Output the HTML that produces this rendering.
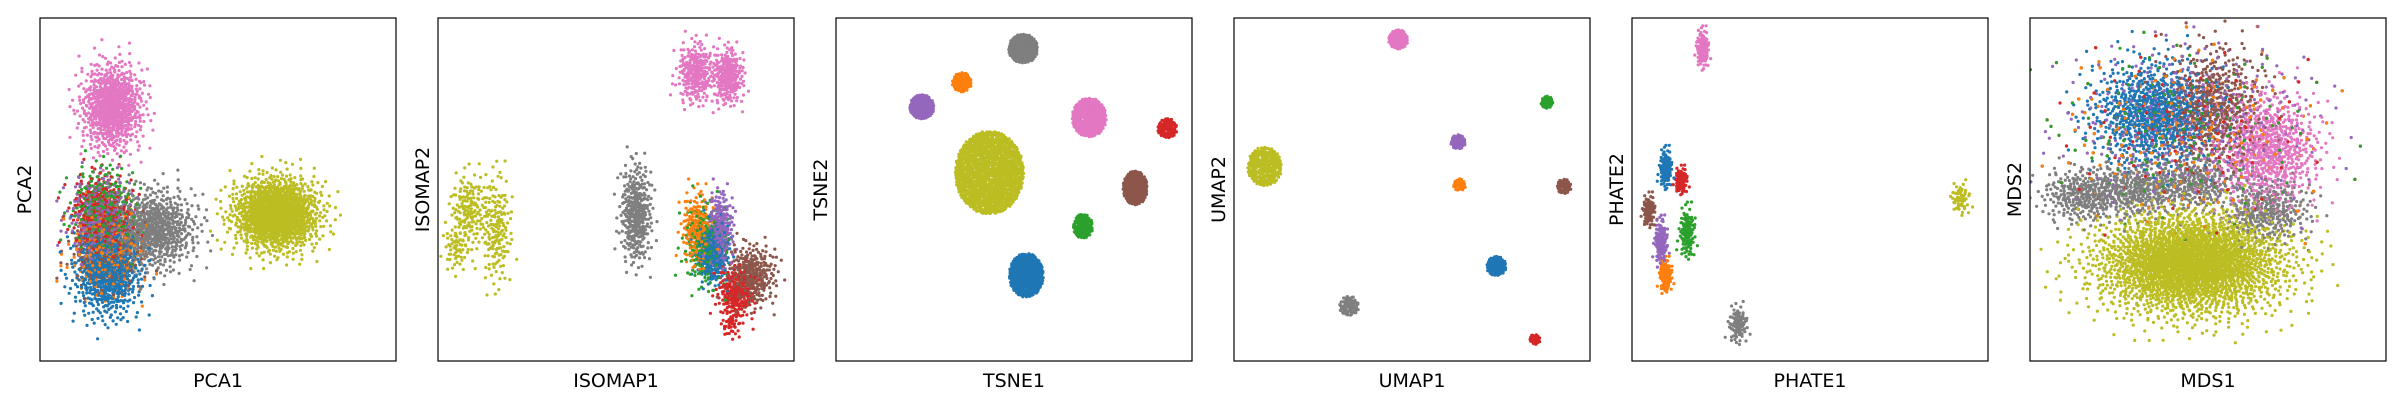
<!DOCTYPE html>
<html><head><meta charset="utf-8">
<style>
html,body{margin:0;padding:0;background:#fff;}
svg{display:block;}
text{font-family:"DejaVu Sans","Liberation Sans",sans-serif;fill:#000;}
</style></head>
<body>
<svg id="chart" width="2400" height="400" xmlns="http://www.w3.org/2000/svg"></svg>
<script>
// Panel titles
const xTitles = ["PCA1","ISOMAP1","TSNE1","UMAP1","PHATE1","MDS1"];
const yTitles = ["PCA2","ISOMAP2","TSNE2","UMAP2","PHATE2","MDS2"];
const palette = ["#1f77b4","#ff7f0e","#2ca02c","#d62728","#9467bd","#8c564b","#e377c2","#7f7f7f","#bcbd22"];

// Cluster data per panel (data domain x:0..232, y:0..224 measured from top)
const pcaColor = [5,1,0,4,2,3,7,6,8];
const pcaX     = [44,44,44,39,41,40,74,47,154];
const pcaY     = [150,152,165,130,125,128,138,58,128];
const pcaSX    = [12,12,11,10,10,10,14,10,14];
const pcaSY    = [14,14,15,13,14,13,13,14,12];
const pcaN     = [250,250,700,300,300,300,700,800,1300];
const pcaShape = [0,0,0,0,0,0,0,0,0];

const isoColor = [8,8,8,7,6,6,1,4,0,2,5,3,3];
const isoX     = [20,38,12,129,168,189,169,184,179,174,204,194,191];
const isoY     = [125,138,150,128,36,38,138,138,153,148,168,180,201];
const isoSX    = [6,5,4,5,6,5,5,4,5,7,8,6,3];
const isoSY    = [12,18,8,16,10,9,12,12,10,14,10,9,4];
const isoN     = [150,170,60,350,250,250,200,250,300,200,300,220,30];
const isoShape = [0,0,0,0,0,0,0,0,0,0,0,0,0];

const tsneColor = [7,1,4,6,3,8,5,2,0];
const tsneX     = [122,82,56,165,216,100,195,161,124];
const tsneY     = [20,42,58,65,72,101,111,136,168];
const tsneSX    = [6,4,5,7,4,14,5,4,7];
const tsneSY    = [6,4,5,8,4,17,7,5,9];
const tsneN     = [300,100,220,400,100,1300,300,150,500];
const tsneShape = [1,1,1,1,1,1,1,1,1];

const umapColor = [6,2,8,4,1,5,0,7,3];
const umapX     = [107,204,20,146,147,215,171,75,196];
const umapY     = [14,55,97,81,109,110,162,188,210];
const umapSX    = [4,2.5,7,3,2.5,3,4,4,2.2];
const umapSY    = [4,2.5,8,3,2.5,3,4,4,2.2];
const umapN     = [120,50,250,60,40,60,120,80,30];
const umapShape = [1,1,1,1,1,1,1,1,1];

const phateColor = [6,0,3,5,2,4,1,7,8];
const phateX     = [46,22,32,11,36,19,22,69,214];
const phateY     = [20,98,106,126,140,146,168,200,118];
const phateSX    = [2,2,2,2,2.5,2,2,3,3];
const phateSY    = [6,6,4,5,8,7,5,6,5];
const phateN     = [120,120,100,90,120,140,120,90,60];
const phateShape = [0,0,0,0,0,0,0,0,0];

const mdsColor = [3,2,1,4,0,5,6,7,7,7,7,8];
const mdsX     = [100,100,100,105,80,120,155,35,70,108,155,105];
const mdsY     = [75,75,75,70,62,58,86,116,112,108,126,160];
const mdsSX    = [42,42,42,38,20,16,17,14,15,15,14,31];
const mdsSY    = [28,28,28,26,17,20,18,9,9,8,10,17];
const mdsN     = [400,400,300,450,800,500,700,300,300,250,300,2600];
const mdsShape = [0,0,0,0,0,0,0,0,0,0,0,0];

const panels = [
  [pcaColor,pcaX,pcaY,pcaSX,pcaSY,pcaN,pcaShape],
  [isoColor,isoX,isoY,isoSX,isoSY,isoN,isoShape],
  [tsneColor,tsneX,tsneY,tsneSX,tsneSY,tsneN,tsneShape],
  [umapColor,umapX,umapY,umapSX,umapSY,umapN,umapShape],
  [phateColor,phateX,phateY,phateSX,phateSY,phateN,phateShape],
  [mdsColor,mdsX,mdsY,mdsSX,mdsSY,mdsN,mdsShape]
];

const NS = "http://www.w3.org/2000/svg";
const svg = document.getElementById("chart");
const PW = 356, PH = 343, TOP = 18;

// deterministic low-discrepancy sequence (layout only)
function halton(i, b){ let f=1, r=0; while(i>0){ f/=b; r+=f*(i%b); i=Math.floor(i/b);} return r; }

panels.forEach((p, k) => {
  const left = 40 + k*398;
  const sx = v => left + v/232*PW;
  const sy = v => TOP + v/224*PH;
  const g = document.createElementNS(NS,"g");
  
  
  svg.appendChild(g);
  const clip = document.createElementNS(NS,"clipPath");
  clip.setAttribute("id","clip"+k);
  const cr = document.createElementNS(NS,"rect");
  cr.setAttribute("x",left);cr.setAttribute("y",TOP);cr.setAttribute("width",PW);cr.setAttribute("height",PH);
  clip.appendChild(cr); svg.appendChild(clip);
  const pts = document.createElementNS(NS,"g");
  pts.setAttribute("clip-path","url(#clip"+k+")");
  
  
  g.appendChild(pts);
  const [col,cx,cy,ssx,ssy,cn,shp] = p;
  const all = [];
  for (let c=0;c<col.length;c++){
    const n = cn[c];
    for (let i=1;i<=n;i++){
      const u1 = halton(i+c*7,2), u2 = halton(i+c*7,3);
      const a = 2*Math.PI*u2;
      let r;
      if (shp[c]===1) r = 1.6*Math.sqrt(u1);
      else r = Math.min(3.2, Math.sqrt(-2*Math.log(1-u1*0.9995)));
      const x = sx(cx[c] + r*ssx[c]*Math.cos(a));
      const y = sy(cy[c] + r*ssy[c]*Math.sin(a));
      all.push([halton(i+c*13,5) + (col.length>9 && col[c]===8 ? 0 : 0), x, y, palette[col[c]], c]);
    }
  }
  // interleave so overlapping classes mix; last-class clusters (olive in MDS) drawn as-is
  all.sort((a,b)=>a[0]-b[0]);
  let html = "";
  for (const q of all) html += '<circle cx="'+q[1].toFixed(1)+'" cy="'+q[2].toFixed(1)+'" r="1.6" fill="'+q[3]+'"/>';
  pts.innerHTML = html;
  const frame = document.createElementNS(NS,"rect");
  frame.setAttribute("x",left);frame.setAttribute("y",TOP);
  frame.setAttribute("width",PW);frame.setAttribute("height",PH);
  frame.setAttribute("fill","none");frame.setAttribute("stroke","#000");frame.setAttribute("stroke-width","1.2");
  
  
  g.appendChild(frame);
  const xt = document.createElementNS(NS,"text");
  xt.setAttribute("x",left+PW/2);xt.setAttribute("y",387);
  xt.setAttribute("text-anchor","middle");xt.setAttribute("font-size","19");
  xt.textContent = xTitles[k];
  
  
  g.appendChild(xt);
  const yt = document.createElementNS(NS,"text");
  const yx = left-9, yy = TOP+PH/2;
  yt.setAttribute("x",yx);yt.setAttribute("y",yy);
  yt.setAttribute("text-anchor","middle");yt.setAttribute("font-size","19");
  yt.setAttribute("transform","rotate(-90 "+yx+" "+yy+")");
  yt.textContent = yTitles[k];
  
  
  g.appendChild(yt);
});
</script>
</body></html>
